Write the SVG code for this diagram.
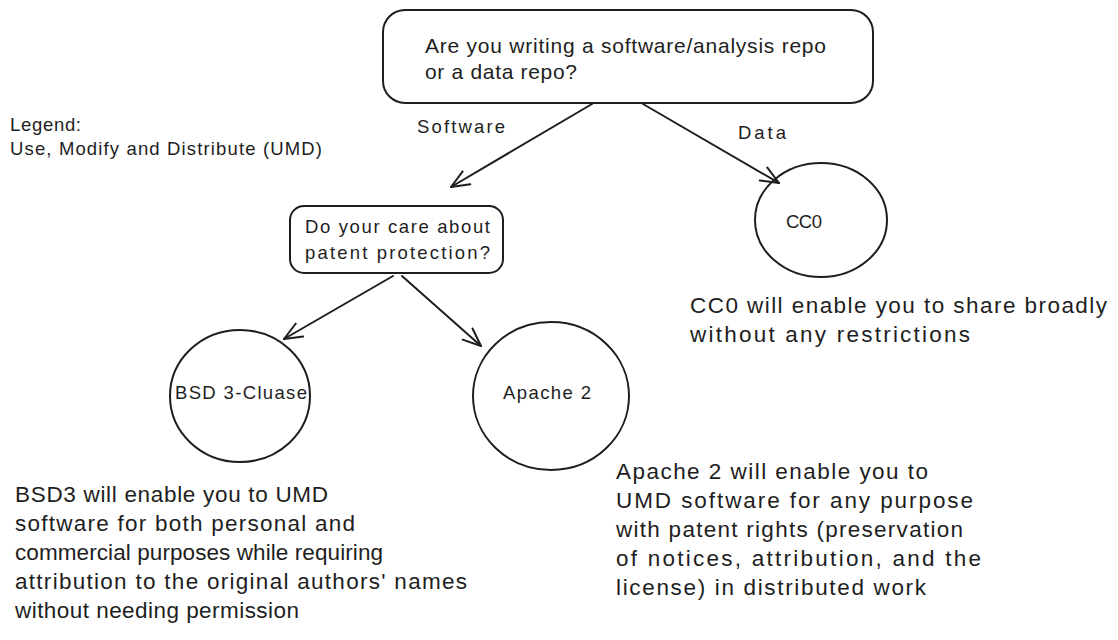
<svg xmlns="http://www.w3.org/2000/svg" width="1118" height="640" viewBox="0 0 1118 640">
<defs>
<style>
.bg{fill:#ffffff}
.shape{fill:none;stroke:#1e1e1e;stroke-width:2;stroke-linecap:round;stroke-linejoin:round}
.conn{fill:none;stroke:#1e1e1e;stroke-width:2;stroke-linecap:round}
text{font-family:"Liberation Sans","DejaVu Sans",sans-serif;fill:#1e1e1e}
.t20{font-size:21px}
.t17{font-size:18.5px}
.t22{font-size:22.5px}
</style>
<marker id="ah" viewBox="0 0 20 20" refX="19" refY="10" markerWidth="20" markerHeight="20" markerUnits="userSpaceOnUse" orient="auto">
<path d="M1,2.5 L19,10 L1,17.5" fill="none" stroke="#1e1e1e" stroke-width="2" stroke-linecap="round" stroke-linejoin="round"/>
</marker>
</defs>
<rect class="bg" x="0" y="0" width="1118" height="640"/>

<g id="connectors">
<path class="conn" d="M592,104 L451,187" marker-end="url(#ah)"/>
<path class="conn" d="M643,104 L779,183" marker-end="url(#ah)"/>
<path class="conn" d="M393,276 L284,339" marker-end="url(#ah)"/>
<path class="conn" d="M402,276 L481,346" marker-end="url(#ah)"/>
<text class="t17" x="417" y="133" textLength="88">Software</text>
<text class="t17" x="738" y="139" textLength="48">Data</text>
</g>

<g id="legend">
<text class="t17" x="10" y="131" textLength="71">Legend:</text>
<text class="t17" x="10" y="155" textLength="312">Use, Modify and Distribute (UMD)</text>
</g>

<g id="node-question">
<rect class="shape" x="383" y="10" width="490" height="93" rx="22" ry="22"/>
<text class="t20" x="425" y="53" textLength="401">Are you writing a software/analysis repo</text>
<text class="t20" x="425" y="79" textLength="152">or a data repo?</text>
</g>

<g id="node-patent">
<rect class="shape" x="290" y="206" width="213" height="67" rx="14" ry="14"/>
<text class="t17" x="305" y="233" textLength="185">Do your care about</text>
<text class="t17" x="305" y="259" textLength="185">patent protection?</text>
</g>

<g id="node-bsd">
<ellipse class="shape" cx="240" cy="396" rx="70" ry="66"/>
<text class="t17" x="175" y="399" textLength="132">BSD 3-Cluase</text>
</g>

<g id="node-apache">
<ellipse class="shape" cx="551" cy="396" rx="78" ry="74"/>
<text class="t17" x="503" y="399" textLength="88">Apache 2</text>
</g>

<g id="node-cc0">
<ellipse class="shape" cx="821" cy="220" rx="66" ry="57"/>
<text class="t17" x="786" y="228" textLength="36">CC0</text>
</g>

<g id="desc-cc0">
<text class="t22" x="690" y="313" textLength="417">CC0 will enable you to share broadly</text>
<text class="t22" x="690" y="342" textLength="280">without any restrictions</text>
</g>

<g id="desc-bsd">
<text class="t22" x="15" y="502" textLength="313">BSD3 will enable you to UMD</text>
<text class="t22" x="15" y="531" textLength="340">software for both personal and</text>
<text class="t22" x="15" y="560" textLength="368">commercial purposes while requiring</text>
<text class="t22" x="15" y="589" textLength="452">attribution to the original authors' names</text>
<text class="t22" x="15" y="618" textLength="284">without needing permission</text>
</g>

<g id="desc-apache">
<text class="t22" x="616" y="479" textLength="312">Apache 2 will enable you to</text>
<text class="t22" x="616" y="508" textLength="357">UMD software for any purpose</text>
<text class="t22" x="616" y="537" textLength="347">with patent rights (preservation</text>
<text class="t22" x="616" y="566" textLength="365">of notices, attribution, and the</text>
<text class="t22" x="616" y="595" textLength="310">license) in distributed work</text>
</g>
</svg>
